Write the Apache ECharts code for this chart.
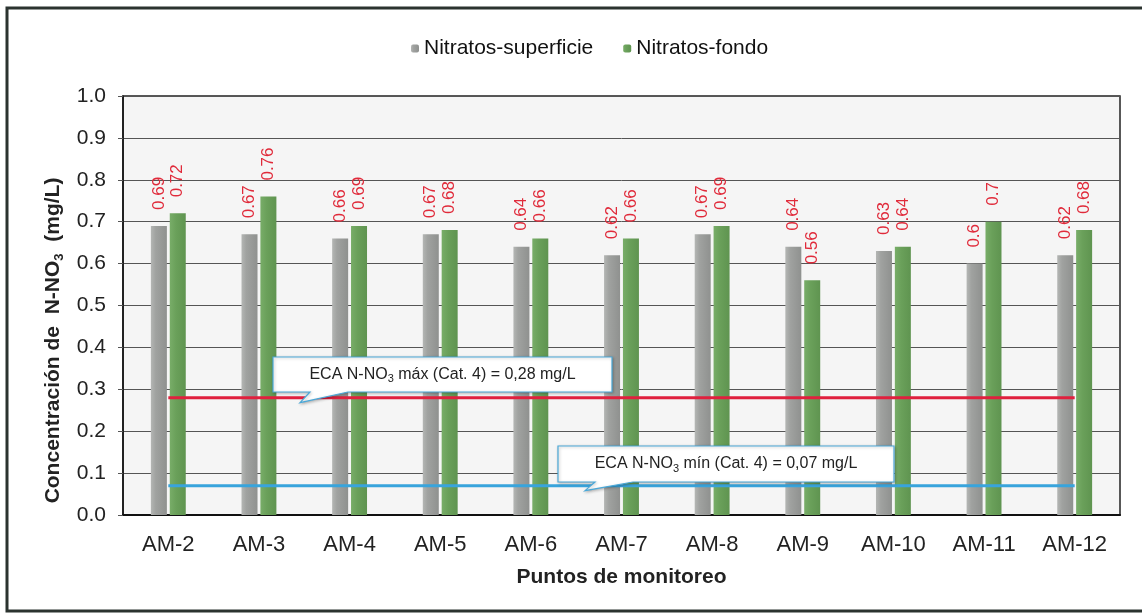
<!DOCTYPE html>
<html><head><meta charset="utf-8">
<script src="https://cdn.jsdelivr.net/npm/echarts@6/dist/echarts.min.js"></script>
<style>html,body{margin:0;padding:0;background:#fff}#c{width:1142px;height:615px}</style>
</head><body><div id="c"></div>
<script>
const categories = ['AM-2','AM-3','AM-4','AM-5','AM-6','AM-7','AM-8','AM-9','AM-10','AM-11','AM-12'];
const superficie = [0.69,0.67,0.66,0.67,0.64,0.62,0.67,0.64,0.63,0.6,0.62];
const fondo = [0.72,0.76,0.69,0.68,0.66,0.66,0.69,0.56,0.64,0.7,0.68];
const ecaMax = categories.map(() => 0.28);
const ecaMin = categories.map(() => 0.07);
const yTicks = { min: 0, max: 1.0, interval: 0.1 };

const chart = echarts.init(document.getElementById('c'));
const FONT = 'Liberation Sans, Arial, sans-serif';
const lbl = {
  show: true, position: 'top', rotate: 90, align: 'left', verticalAlign: 'middle',
  distance: 16, color: '#e02a3a', fontSize: 17, fontFamily: FONT
};
chart.setOption({
  animation: false,
  backgroundColor: '#fff',
  textStyle: { fontFamily: FONT },
  legend: {
    top: 33, left: 406, itemWidth: 8, itemHeight: 8, itemGap: 30,
    data: ['Nitratos-superficie', 'Nitratos-fondo'],
    textStyle: { fontSize: 21, color: '#111', fontFamily: FONT }
  },
  grid: { left: 123, right: 22, top: 96, bottom: 100, show: true,
    backgroundColor: '#f5f5f5', borderColor: '#222', borderWidth: 1.5 },
  xAxis: {
    type: 'category', data: categories,
    name: 'Puntos de monitoreo', nameLocation: 'middle', nameGap: 52,
    nameTextStyle: { fontSize: 21, fontWeight: 'bold', color: '#222', fontFamily: FONT },
    axisLine: { lineStyle: { color: '#111', width: 2 } },
    axisTick: { show: false },
    axisLabel: { fontSize: 22, color: '#222', margin: 19, fontFamily: FONT }
  },
  yAxis: {
    type: 'value', min: yTicks.min, max: yTicks.max, interval: yTicks.interval,
    name: 'Concentración de  N-NO{sub|3}  (mg/L)', nameLocation: 'middle', nameGap: 52,
    nameTextStyle: { fontSize: 21, fontWeight: 'bold', color: '#222', fontFamily: FONT,
      padding: [0, 70, 0, 0],
      rich: { sub: { fontSize: 13, fontWeight: 'bold', verticalAlign: 'bottom', padding: [12,0,0,0], color: '#222' } } },
    axisLine: { show: true, lineStyle: { color: '#111', width: 1.5 } },
    axisTick: { show: true, length: 5, lineStyle: { color: '#555' } },
    axisLabel: { fontSize: 21, color: '#222', margin: 17, fontFamily: FONT,
      formatter: v => v.toFixed(1) },
    splitLine: { lineStyle: { color: '#555', width: 1 } }
  },
  series: [
    { name: 'Nitratos-superficie', type: 'bar', data: superficie, barWidth: 16, barGap: '18%',
      itemStyle: { color: new echarts.graphic.LinearGradient(0,0,1,0,[
        {offset:0,color:'#b4b6b4'},{offset:0.3,color:'#a0a2a0'},{offset:1,color:'#8f918f'}]) },
      label: lbl },
    { name: 'Nitratos-fondo', type: 'bar', data: fondo, barWidth: 16,
      itemStyle: { color: new echarts.graphic.LinearGradient(0,0,1,0,[
        {offset:0,color:'#78ad68'},{offset:0.4,color:'#6aa05a'},{offset:1,color:'#5f9450'}]) },
      label: lbl },
    { name: 'ECA máx', type: 'line', data: ecaMax, symbol: 'none', z: 5,
      lineStyle: { color: '#e0203e', width: 3 } },
    { name: 'ECA mín', type: 'line', data: ecaMin, symbol: 'none', z: 5,
      lineStyle: { color: '#38a4dc', width: 3 } }
  ]
});

function callout(x, y, w, h, tipX, tipY, baseL, baseR, sym, val) {
  return [
    { type: 'polygon', z: 100,
      shape: { points: [[x,y],[x+w,y],[x+w,y+h],[x+baseR,y+h],[tipX,tipY],[x+baseL,y+h],[x,y+h]] },
      style: { fill: '#fff', stroke: '#4aa8d8', lineWidth: 1.2,
        shadowBlur: 3, shadowColor: 'rgba(0,0,0,0.25)', shadowOffsetX: 1, shadowOffsetY: 1 } },
    { type: 'text', z: 101, x: x + w / 2, y: y + h / 2,
      style: { text: '{a|ECA N-NO}{s|3}{a| ' + sym + ' (Cat. 4) = ' + val + ' mg/L}',
        align: 'center', verticalAlign: 'middle',
        rich: { a: { fontSize: 16, fontFamily: FONT, fill: '#222', color: '#222' },
                s: { fontSize: 11, fontFamily: FONT, fill: '#222', color: '#222', verticalAlign: 'bottom', padding: [9,0,0,0] } } } }
  ];
}
const yMax = chart.convertToPixel({ yAxisIndex: 0 }, 0.28);
const yMin = chart.convertToPixel({ yAxisIndex: 0 }, 0.07);
chart.setOption({
  graphic: [
    { type: 'rect', z: 99, shape: { x: 7, y: 8, width: 1150, height: 603 },
      style: { fill: null, stroke: '#2b332f', lineWidth: 3 } },
    ...callout(273, 357, 339, 35, 300, yMax + 5, 37, 75, 'máx', '0,28'),
    ...callout(558, 446, 336, 36, 585, yMin + 5, 37, 75, 'mín', '0,07')
  ]
});
</script></body></html>
